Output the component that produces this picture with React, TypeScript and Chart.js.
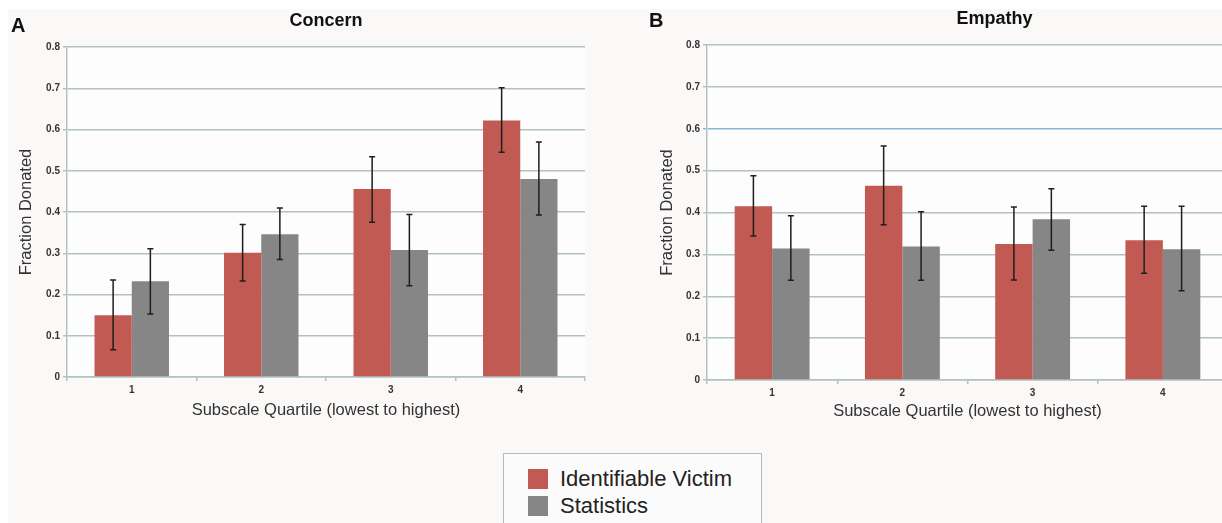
import React, { useEffect, useRef } from "react";
import { Chart, registerables } from "chart.js";

Chart.register(...registerables);

const quartiles = ["1", "2", "3", "4"];
const seriesNames = ["Identifiable Victim", "Statistics"];
const panelTitles = ["Concern", "Empathy"];
const panelLetters = ["A", "B"];
const xAxisTitle = "Subscale Quartile (lowest to highest)";
const yAxisTitle = "Fraction Donated";
const yTickValues = [0, 0.1, 0.2, 0.3, 0.4, 0.5, 0.6, 0.7, 0.8];

const concernVictim = [0.15, 0.301, 0.456, 0.622];
const concernVictimLow = [0.066, 0.233, 0.375, 0.545];
const concernVictimHigh = [0.235, 0.37, 0.534, 0.701];
const concernStats = [0.232, 0.346, 0.308, 0.48];
const concernStatsLow = [0.153, 0.285, 0.221, 0.393];
const concernStatsHigh = [0.311, 0.41, 0.394, 0.57];

const empathyVictim = [0.415, 0.464, 0.325, 0.334];
const empathyVictimLow = [0.344, 0.371, 0.239, 0.255];
const empathyVictimHigh = [0.488, 0.559, 0.413, 0.415];
const empathyStats = [0.314, 0.319, 0.384, 0.312];
const empathyStatsLow = [0.238, 0.238, 0.31, 0.213];
const empathyStatsHigh = [0.392, 0.402, 0.457, 0.415];

const RED = "#c25a54";
const GRAY = "#868686";
const GRID = "#b2c2c2";
const FONT = "'Liberation Sans', Arial, Helvetica, sans-serif";

const errorBarPlugin = {
  id: "errorBars",
  afterDatasetsDraw(chart: any) {
    const ctx = chart.ctx;
    const yScale = chart.scales.y;
    ctx.save();
    ctx.strokeStyle = "#1e1e1e";
    ctx.lineWidth = 1.5;
    chart.data.datasets.forEach((ds: any, i: number) => {
      const meta = chart.getDatasetMeta(i);
      meta.data.forEach((bar: any, j: number) => {
        const x = bar.x;
        const yl = yScale.getPixelForValue(ds.errLow[j]);
        const yh = yScale.getPixelForValue(ds.errHigh[j]);
        ctx.beginPath();
        ctx.moveTo(x, yl);
        ctx.lineTo(x, yh);
        ctx.moveTo(x - 3, yl);
        ctx.lineTo(x + 3, yl);
        ctx.moveTo(x - 3, yh);
        ctx.lineTo(x + 3, yh);
        ctx.stroke();
      });
    });
    ctx.restore();
  },
};

const panelTextPlugin = {
  id: "panelText",
  beforeDraw(chart: any) {
    const { ctx, chartArea } = chart;
    ctx.save();
    ctx.fillStyle = "#fefdfd";
    ctx.fillRect(chartArea.left, chartArea.top, chartArea.right - chartArea.left, chartArea.bottom - chartArea.top);
    ctx.restore();
  },
  afterDraw(chart: any) {
    const { ctx, chartArea } = chart;
    const o = chart.options.plugins.panelText;
    ctx.save();
    ctx.fillStyle = "#111";
    ctx.textBaseline = "middle";
    ctx.textAlign = "center";
    ctx.font = `bold 18px ${FONT}`;
    ctx.fillText(o.title, (chartArea.left + chartArea.right) / 2 + o.titleDx, o.titleY);
    ctx.textAlign = "left";
    ctx.font = `bold 20px ${FONT}`;
    ctx.fillText(o.letter, o.letterX, o.letterY);
    ctx.restore();
  },
};

type PanelProps = {
  left: number;
  width: number;
  height: number;
  letter: string;
  title: string;
  victim: number[];
  victimLow: number[];
  victimHigh: number[];
  stats: number[];
  statsLow: number[];
  statsHigh: number[];
  plotLeft: number;
  plotTop: number;
  plotBottom: number;
  padRight: number;
  yTitleX: number;
  xTitleY: number;
  titleY: number;
  titleDx: number;
  letterX: number;
  letterY: number;
  blueLine: number | null;
};

function Panel(p: PanelProps) {
  const ref = useRef<HTMLCanvasElement>(null);
  useEffect(() => {
    if (!ref.current) return;
    const yFont = 16.5;
    const lh = yFont * 1.2;
    const chart = new Chart(ref.current, {
      type: "bar",
      data: {
        labels: quartiles,
        datasets: [
          {
            label: seriesNames[0],
            data: p.victim,
            backgroundColor: RED,
            borderWidth: 0,
            errLow: p.victimLow,
            errHigh: p.victimHigh,
          } as any,
          {
            label: seriesNames[1],
            data: p.stats,
            backgroundColor: GRAY,
            borderWidth: 0,
            errLow: p.statsLow,
            errHigh: p.statsHigh,
          } as any,
        ],
      },
      options: {
        responsive: false,
        animation: false,
        devicePixelRatio: 1,
        layout: { padding: { top: p.plotTop, left: 0, right: p.padRight, bottom: 0 } },
        datasets: { bar: { categoryPercentage: 0.575, barPercentage: 1 } },
        plugins: {
          legend: { display: false },
          tooltip: { enabled: false },
          title: { display: false },
          panelText: {
            title: p.title,
            letter: p.letter,
            titleY: p.titleY,
            titleDx: p.titleDx,
            letterX: p.letterX,
            letterY: p.letterY,
          },
        } as any,
        scales: {
          x: {
            grid: {
              display: true,
              drawOnChartArea: false,
              drawTicks: true,
              tickLength: 4,
              color: GRID,
              lineWidth: 1.5,
              offset: true,
            },
            border: { display: true, color: GRID, width: 1.5 },
            ticks: {
              color: "#333",
              font: { family: FONT, size: 10, weight: "bold" },
              padding: 3,
            },
            title: {
              display: true,
              text: xAxisTitle,
              color: "#333",
              font: { family: FONT, size: yFont },
              padding: { top: 0, bottom: p.height - p.xTitleY - lh / 2 },
            },
            afterFit: (scale: any) => {
              scale.height = p.height - p.plotBottom;
            },
          },
          y: {
            min: yTickValues[0],
            max: yTickValues[yTickValues.length - 1],
            afterBuildTicks: (scale: any) => {
              scale.ticks = yTickValues.map((v) => ({ value: v }));
            },
            grid: {
              color: (c: any) =>
                p.blueLine !== null && c.tick && Math.abs(c.tick.value - p.blueLine) < 1e-6 ? "#8cb6d6" : GRID,
              lineWidth: 1.5,
              drawTicks: true,
              tickLength: 4,
            },
            border: { display: true, color: GRID, width: 1.5 },
            ticks: {
              color: "#333",
              font: { family: FONT, size: 10, weight: "bold" },
              padding: 3,
              callback: (v: any) => String(Math.round(Number(v) * 10) / 10),
            },
            title: {
              display: true,
              text: yAxisTitle,
              color: "#333",
              font: { family: FONT, size: yFont },
              padding: { top: p.yTitleX - lh / 2, bottom: 0 },
            },
            afterFit: (scale: any) => {
              scale.width = p.plotLeft;
            },
          },
        },
      } as any,
      plugins: [errorBarPlugin, panelTextPlugin],
    });
    return () => chart.destroy();
  }, []);
  return (
    <canvas
      ref={ref}
      width={p.width}
      height={p.height}
      style={{ position: "absolute", left: p.left, top: 0, width: p.width, height: p.height, display: "block" }}
    />
  );
}

export default function App() {
  return (
    <div
      style={{
        position: "fixed",
        left: 0,
        top: 0,
        width: 1222,
        height: 523,
        overflow: "hidden",
        background: "#ffffff",
        fontFamily: FONT,
      }}
    >
      <div style={{ position: "absolute", left: 8, top: 9, right: 0, bottom: 0, background: "#fbf9f8" }} />
      <Panel
        left={0}
        width={610}
        height={430}
        letter={panelLetters[0]}
        title={panelTitles[0]}
        victim={concernVictim}
        victimLow={concernVictimLow}
        victimHigh={concernVictimHigh}
        stats={concernStats}
        statsLow={concernStatsLow}
        statsHigh={concernStatsHigh}
        plotLeft={67}
        plotTop={47}
        plotBottom={377}
        padRight={25}
        yTitleX={26}
        xTitleY={410}
        titleY={21}
        titleDx={0}
        letterX={11}
        letterY={26}
        blueLine={null}
      />
      <Panel
        left={610}
        width={620}
        height={430}
        letter={panelLetters[1]}
        title={panelTitles[1]}
        victim={empathyVictim}
        victimLow={empathyVictimLow}
        victimHigh={empathyVictimHigh}
        stats={empathyStats}
        statsLow={empathyStatsLow}
        statsHigh={empathyStatsHigh}
        plotLeft={97}
        plotTop={45}
        plotBottom={380}
        padRight={2}
        yTitleX={57}
        xTitleY={411}
        titleY={19}
        titleDx={27}
        letterX={39}
        letterY={21}
        blueLine={0.6}
      />
      <div
        style={{
          position: "absolute",
          left: 503,
          top: 453,
          width: 259,
          height: 90,
          border: "1.5px solid #a9bebe",
          background: "#fcfbfb",
          boxSizing: "border-box",
        }}
      >
        {seriesNames.map((name, i) => (
          <div
            key={name}
            style={{
              position: "absolute",
              left: 24,
              top: 14 + i * 27,
              height: 22,
              display: "flex",
              alignItems: "center",
              whiteSpace: "nowrap",
            }}
          >
            <span
              style={{
                display: "inline-block",
                width: 20,
                height: 20,
                background: i === 0 ? RED : GRAY,
                marginRight: 12,
              }}
            />
            <span style={{ fontSize: 22, color: "#222", lineHeight: "22px" }}>{name}</span>
          </div>
        ))}
      </div>
    </div>
  );
}
